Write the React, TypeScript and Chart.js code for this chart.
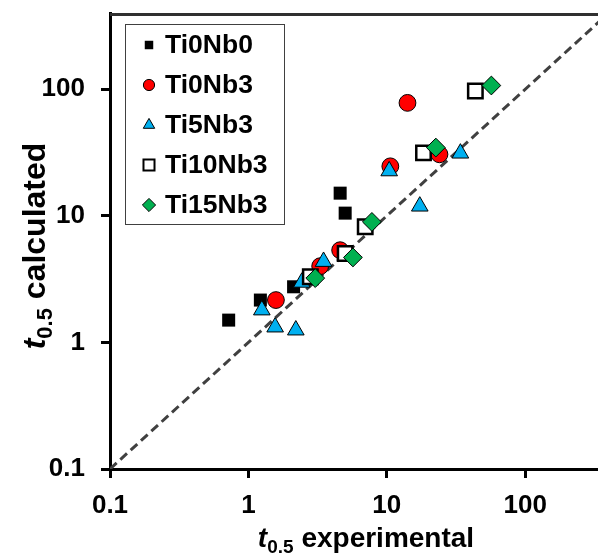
import React, { useEffect, useRef } from 'react';
import { Chart, registerables } from 'chart.js';

Chart.register(...registerables);

// ---- data ----
const seriesNames = ['Ti0Nb0', 'Ti0Nb3', 'Ti5Nb3', 'Ti10Nb3', 'Ti15Nb3'];
const ti0nb0X = [0.72, 1.22, 2.12, 4.6, 5.0];
const ti0nb0Y = [1.5, 2.16, 2.75, 15.1, 10.5];
const ti0nb3X = [1.58, 3.3, 4.6, 10.6, 14.1, 24.0];
const ti0nb3Y = [2.16, 4.0, 5.35, 24.6, 78, 30.6];
const ti5nb3X = [1.25, 1.56, 2.2, 2.43, 3.49, 10.4, 17.3, 34.0];
const ti5nb3Y = [1.8, 1.32, 1.25, 2.98, 4.35, 22.6, 11.9, 31.2];
const ti10nb3X = [2.8, 5.0, 6.98, 18.4, 43.6];
const ti10nb3Y = [3.3, 5.04, 8.2, 31.4, 96.8];
const ti15nb3X = [3.04, 5.69, 7.8, 22.6, 56.9];
const ti15nb3Y = [3.22, 4.69, 8.95, 34.6, 107];
const parityLine = [0.1, 1000];
const tickValues = [0.1, 1, 10, 100];
const xMin = 0.1;
const xMax = 500;
const yMin = 0.1;
const yMax = 400;

const seriesX = [ti0nb0X, ti0nb3X, ti5nb3X, ti10nb3X, ti15nb3X];
const seriesY = [ti0nb0Y, ti0nb3Y, ti5nb3Y, ti10nb3Y, ti15nb3Y];

// ---- styles ----
const FONT = '"Liberation Sans", Arial, Helvetica, sans-serif';
const seriesStyles = [
  { style: 'rect', fill: '#000000', stroke: '#000000', lw: 0, r: 9.2, lr: 6 },
  { style: 'circle', fill: '#FF0000', stroke: '#000000', lw: 1, r: 8.4, lr: 5.6 },
  { style: 'triangle', fill: '#00B0F0', stroke: '#000000', lw: 1, r: 9.6, lr: 6.6 },
  { style: 'rect', fill: '#FFFFFF', stroke: '#000000', lw: 2.5, r: 10.2, lr: 7.8 },
  { style: 'rectRot', fill: '#00B050', stroke: '#000000', lw: 1, r: 9.4, lr: 6.6 },
];

function drawMarker(ctx, style, x, y, r, fill, stroke, lw) {
  ctx.beginPath();
  if (style === 'circle') {
    ctx.arc(x, y, r, 0, Math.PI * 2);
  } else if (style === 'rect') {
    const s = r * Math.SQRT1_2;
    ctx.rect(x - s, y - s, 2 * s, 2 * s);
  } else if (style === 'rectRot') {
    ctx.moveTo(x - r, y);
    ctx.lineTo(x, y - r);
    ctx.lineTo(x + r, y);
    ctx.lineTo(x, y + r);
    ctx.closePath();
  } else if (style === 'triangle') {
    const a = (2 * Math.PI) / 3;
    ctx.moveTo(x, y - r);
    ctx.lineTo(x + r * Math.sin(a), y - r * Math.cos(a));
    ctx.lineTo(x + r * Math.sin(2 * a), y - r * Math.cos(2 * a));
    ctx.closePath();
  }
  ctx.fillStyle = fill;
  ctx.fill();
  if (lw > 0) {
    ctx.lineWidth = lw;
    ctx.strokeStyle = stroke;
    ctx.stroke();
  }
}

function drawRich(ctx, parts, cx, baseY) {
  let total = 0;
  parts.forEach((p) => {
    ctx.font = p.font;
    total += ctx.measureText(p.text).width;
  });
  let x = cx - total / 2;
  ctx.textAlign = 'left';
  ctx.textBaseline = 'alphabetic';
  ctx.fillStyle = '#000';
  parts.forEach((p) => {
    ctx.font = p.font;
    ctx.fillText(p.text, x, baseY + (p.dy || 0));
    x += ctx.measureText(p.text).width;
  });
}

const decorPlugin = {
  id: 'decor',
  afterDraw(chart) {
    const ctx = chart.ctx;
    const a = chart.chartArea;
    ctx.save();
    // top border
    ctx.beginPath();
    ctx.strokeStyle = '#303030';
    ctx.lineWidth = 3;
    ctx.moveTo(a.left, a.top + 1.5);
    ctx.lineTo(a.right, a.top + 1.5);
    ctx.stroke();

    // legend
    const lx = a.left + 15;
    const ly = a.top + 11;
    const lw = 159;
    const lh = 200;
    ctx.fillStyle = '#fff';
    ctx.fillRect(lx, ly, lw, lh);
    ctx.strokeStyle = '#404040';
    ctx.lineWidth = 1;
    ctx.strokeRect(lx + 0.5, ly + 0.5, lw, lh);
    seriesNames.forEach((name, i) => {
      const s = seriesStyles[i];
      const cy = ly + 21 + 40 * i;
      drawMarker(ctx, s.style, lx + 24, cy, s.lr, s.fill, s.stroke, s.lw > 1 ? 2 : s.lw);
      ctx.font = `bold 26.5px ${FONT}`;
      ctx.fillStyle = '#000';
      ctx.textAlign = 'left';
      ctx.textBaseline = 'middle';
      ctx.fillText(name, lx + 40, cy + 1);
    });

    // x title
    drawRich(
      ctx,
      [
        { text: 't', font: `italic bold 28px ${FONT}` },
        { text: '0.5', font: `bold 19px ${FONT}`, dy: 6 },
        { text: ' experimental', font: `bold 28px ${FONT}` },
      ],
      (a.left + a.right) / 2,
      547
    );
    // y title
    ctx.save();
    ctx.translate(45, 246);
    ctx.rotate(-Math.PI / 2);
    drawRich(
      ctx,
      [
        { text: 't', font: `italic bold 32px ${FONT}` },
        { text: '0.5', font: `bold 22px ${FONT}`, dy: 7 },
        { text: ' calculated', font: `bold 32px ${FONT}` },
      ],
      0,
      0
    );
    ctx.restore();
    ctx.restore();
  },
};

export default function App() {
  const ref = useRef(null);
  useEffect(() => {
    const datasets: any[] = seriesNames.map((name, i) => {
      const s = seriesStyles[i];
      return {
        label: name,
        data: seriesX[i].map((x, j) => ({ x, y: seriesY[i][j] })),
        pointStyle: s.style,
        pointRadius: s.r,
        pointHoverRadius: s.r,
        pointBackgroundColor: s.fill,
        pointBorderColor: s.stroke,
        pointBorderWidth: s.lw,
        backgroundColor: s.fill,
        borderColor: s.stroke,
        showLine: false,
        order: 5 - i,
      };
    });
    datasets.push({
      label: 'parity',
      data: parityLine.map((v) => ({ x: v, y: v })),
      showLine: true,
      borderColor: '#404040',
      borderWidth: 3,
      borderDash: [9, 5],
      pointRadius: 0,
      fill: false,
      order: 20,
    });
    const tickFont = { family: FONT, size: 26, weight: 'bold' as const };
    const chart = new Chart(ref.current, {
      type: 'scatter',
      data: { datasets },
      plugins: [decorPlugin],
      options: {
        animation: false,
        responsive: false,
        devicePixelRatio: 1,
        layout: { autoPadding: false, padding: { top: 13, left: 0, right: 0, bottom: 0 } },
        plugins: { legend: { display: false }, tooltip: { enabled: false }, title: { display: false } },
        scales: {
          x: {
            type: 'logarithmic',
            position: 'bottom',
            min: xMin,
            max: xMax,
            afterBuildTicks: (scale) => {
              scale.ticks = tickValues.map((v) => ({ value: v }));
            },
            afterFit: (scale) => {
              scale.height = 87;
              scale.paddingLeft = 0;
              scale.paddingRight = 0;
            },
            ticks: {
              callback: (v) => String(v),
              font: tickFont,
              color: '#000',
              padding: 12,
              autoSkip: false,
              maxRotation: 0,
              minRotation: 0,
            },
            grid: { drawOnChartArea: false, drawTicks: true, tickLength: 9, color: '#000', lineWidth: 3 },
            border: { display: true, color: '#000', width: 3 },
          },
          y: {
            type: 'logarithmic',
            position: 'left',
            min: yMin,
            max: yMax,
            afterBuildTicks: (scale) => {
              scale.ticks = tickValues.map((v) => ({ value: v }));
            },
            afterFit: (scale) => {
              scale.width = 110;
              scale.paddingTop = 0;
              scale.paddingBottom = 0;
            },
            ticks: {
              callback: (v) => String(v),
              font: tickFont,
              color: '#000',
              padding: 16,
              autoSkip: false,
            },
            grid: { drawOnChartArea: false, drawTicks: true, tickLength: 9, color: '#000', lineWidth: 3 },
            border: { display: true, color: '#000', width: 3 },
          },
        },
      },
    });
    return () => chart.destroy();
  }, []);
  return (
    <div
      style={{
        position: 'absolute',
        left: 0,
        top: 0,
        width: 598,
        height: 556,
        overflow: 'hidden',
        background: '#fff',
      }}
    >
      <canvas ref={ref} width={622} height={556} style={{ display: 'block', width: 622, height: 556 }} />
    </div>
  );
}
